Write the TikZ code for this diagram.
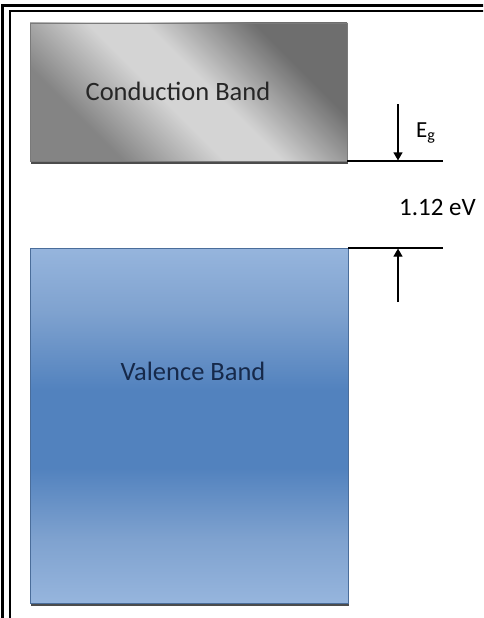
\documentclass[tikz,border=0pt]{standalone}
\usepackage{fontspec}
\setmainfont{Carlito}
\usetikzlibrary{arrows.meta,backgrounds}
\definecolor{cbdarkA}{HTML}{848484}
\definecolor{cbdarkB}{HTML}{6E6E6E}
\definecolor{cblight}{HTML}{D4D4D4}
\definecolor{cbedge}{HTML}{7A7A7A}
\definecolor{vblight}{HTML}{96B5DD}
\definecolor{vbmid}{HTML}{7FA2CF}
\definecolor{vbdark}{HTML}{5282BE}
\definecolor{vbedge}{HTML}{4A6D9A}
\definecolor{cbtext}{HTML}{262626}
\definecolor{vbtext}{HTML}{16294A}
\pgfdeclareverticalshading{cbshade}{100bp}{color(0bp)=(cbdarkA); color(29bp)=(cbdarkA);
  color(45bp)=(cblight); color(54bp)=(cblight); color(71bp)=(cbdarkB); color(100bp)=(cbdarkB)}
\pgfdeclareverticalshading{vbshade}{100bp}{color(0bp)=(vblight); color(25bp)=(vblight);
  color(34bp)=(vbmid); color(44bp)=(vbdark); color(55bp)=(vbdark); color(66bp)=(vbmid);
  color(75bp)=(vblight); color(100bp)=(vblight)}
\tikzset{
  frameline/.style={line width=2.5pt, black},
  band/.style={inner sep=0pt, outer sep=0pt, line width=0.8pt},
  cbband/.style={band, draw=cbedge, shading=cbshade, shading angle=-45},
  vbband/.style={band, draw=vbedge, shading=vbshade},
  bandshadow/.style={fill=black, fill opacity=0.7},
  bandlabel/.style={font=\fontsize{26.5}{30}\selectfont, anchor=base, inner sep=0pt},
  sidelabel/.style={anchor=base west, inner sep=0pt},
  level/.style={line width=1.2pt, black},
  arr/.style={line width=1.2pt, black, -{Triangle[length=8pt,width=9pt]}}
}
\begin{document}
\begin{tikzpicture}[x=1pt, y=-1pt]
\useasboundingbox (0,0) rectangle (483,618);
\begin{scope}
\clip (0,0) rectangle (483,618);
\draw[frameline] (2.5,640) -- (2.5,5.5) -- (500,5.5);
\draw[frameline] (10,640) -- (10,11) -- (500,11);
\end{scope}
% bands
\node[cbband, minimum width=317pt, minimum height=138pt] (cb) at (188.5,92) {};
\node[vbband, minimum width=318pt, minimum height=355pt] (vb) at (189,425.5) {};
\begin{scope}[on background layer]
\fill[bandshadow] ([xshift=1.2pt,yshift=-2.5pt]cb.south west) rectangle ([xshift=1.2pt,yshift=-2.5pt]cb.north east);
\fill[bandshadow] ([xshift=1.2pt,yshift=-2.5pt]vb.south west) rectangle ([xshift=1.2pt,yshift=-2.5pt]vb.north east);
\end{scope}
\node[bandlabel, text=cbtext] (cbl) at (178,100) {Conduction Band};
\node[bandlabel, text=vbtext] (vbl) at (193,380) {Valence Band};
% levels
\coordinate (cbr) at (443,161);
\coordinate (vbr) at (443,248);
\draw[level] (cb.south east) -- (cbr);
\draw[level] (vb.north east) -- (vbr);
% arrows
\coordinate (a1s) at (398,104);
\coordinate (a1e) at (398,160.4);
\coordinate (a2s) at (398,302);
\coordinate (a2e) at (398,248.6);
\draw[arr] (a1s) -- (a1e);
\draw[arr] (a2s) -- (a2e);
% labels
\node[sidelabel, font=\fontsize{23}{26}\selectfont] (eg) at (416,137) {E\textsubscript{g}};
\node[sidelabel, font=\fontsize{25}{28}\selectfont] (gap) at (399,215) {1.12 eV};
\end{tikzpicture}
\end{document}
